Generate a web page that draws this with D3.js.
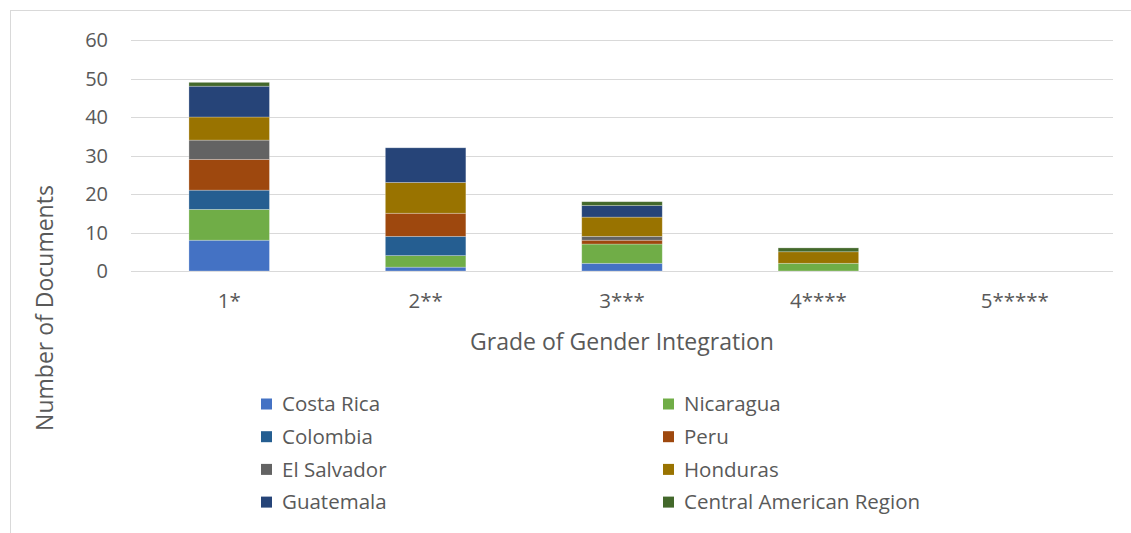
<!DOCTYPE html>
<html lang="en">
<head>
    <meta charset="UTF-8">
    <script src="https://d3js.org/d3.v7.min.js"></script>
    <style>
        body {
            margin: 0;
            background-color: #fff;
        }
        text {
            font-family: "Open Sans", "Liberation Sans", sans-serif;
            fill: #595959;
        }
    </style>
    <title>Grade of Gender Integration</title>
</head>
<body>
    <svg id="chart" width="1131" height="533"></svg>
    <script>
        // data
        var grades = ["1*", "2**", "3***", "4****", "5*****"];
        var countries = ["Costa Rica", "Nicaragua", "Colombia", "Peru", "El Salvador", "Honduras", "Guatemala", "Central American Region"];
        var colors = ["#4472C4", "#70AD47", "#255E91", "#9E480E", "#636363", "#997300", "#264478", "#43682B"];

        var costaRica   = [8, 1, 2, 0, 0];
        var nicaragua   = [8, 3, 5, 2, 0];
        var colombia    = [5, 5, 0, 0, 0];
        var peru        = [8, 6, 1, 0, 0];
        var elSalvador  = [5, 0, 1, 0, 0];
        var honduras    = [6, 8, 5, 3, 0];
        var guatemala   = [8, 9, 3, 0, 0];
        var centralAm   = [1, 0, 1, 1, 0];

        var yTicks = [0, 10, 20, 30, 40, 50, 60];

        var series = [costaRica, nicaragua, colombia, peru, elSalvador, honduras, guatemala, centralAm];

        var table = grades.map(function (g, i) {
            var row = { grade: g };
            countries.forEach(function (c, k) { row[c] = series[k][i]; });
            return row;
        });

        var svg = d3.select("#chart");

        // outer frame
        svg.append("rect")
            .attr("x", 10.5).attr("y", 10.5)
            .attr("width", 1130).attr("height", 530)
            .attr("fill", "none")
            .attr("stroke", "#d9d9d9");

        var plotLeft = 131, plotRight = 1113, plotTop = 40, plotBottom = 271;

        var x = d3.scaleBand().domain(grades).range([plotLeft, plotRight]);
        var y = d3.scaleLinear().domain([0, 60]).range([plotBottom, plotTop]);

        // gridlines
        svg.append("g")
            .selectAll("line")
            .data(yTicks)
            .enter().append("line")
            .attr("x1", plotLeft).attr("x2", plotRight)
            .attr("y1", function (d) { return Math.round(y(d)) + 0.5; })
            .attr("y2", function (d) { return Math.round(y(d)) + 0.5; })
            .attr("stroke", "#d9d9d9")
            .attr("stroke-width", 1);

        // y tick labels
        svg.append("g")
            .selectAll("text")
            .data(yTicks)
            .enter().append("text")
            .attr("x", 108)
            .attr("y", function (d) { return y(d); })
            .attr("dy", "0.35em")
            .attr("text-anchor", "end")
            .style("font-size", "20px")
            .text(function (d) { return d; });

        // stacked bars
        var stack = d3.stack().keys(countries)(table);
        var barW = x.bandwidth() * 0.41;

        svg.append("g")
            .selectAll("g")
            .data(stack)
            .enter().append("g")
            .attr("fill", function (d, i) { return colors[i]; })
            .selectAll("rect")
            .data(function (d) { return d; })
            .enter().append("rect")
            .attr("x", function (d) { return x(d.data.grade) + (x.bandwidth() - barW) / 2; })
            .attr("y", function (d) { return y(d[1]); })
            .attr("width", barW)
            .attr("height", function (d) { return y(d[0]) - y(d[1]); })
            .attr("stroke", "#ffffff")
            .attr("stroke-opacity", function (d) { return d[1] > d[0] ? 0.35 : 0; })
            .attr("stroke-width", 0.75);

        // x tick labels
        svg.append("g")
            .selectAll("text")
            .data(grades)
            .enter().append("text")
            .attr("x", function (d) { return x(d) + x.bandwidth() / 2; })
            .attr("y", 301)
            .attr("dy", "0.35em")
            .attr("text-anchor", "middle")
            .style("font-size", "20.5px")
            .text(function (d) { return d; });

        // axis titles
        svg.append("text")
            .attr("x", 622)
            .attr("y", 342)
            .attr("dy", "0.35em")
            .attr("text-anchor", "middle")
            .style("font-size", "23px")
            .text("Grade of Gender Integration");

        svg.append("text")
            .attr("transform", "translate(45,308) rotate(-90)")
            .attr("dy", "0.35em")
            .attr("text-anchor", "middle")
            .style("font-size", "23px")
            .text("Number of Documents");

        // legend
        var legend = svg.append("g")
            .selectAll("g")
            .data(countries)
            .enter().append("g")
            .attr("transform", function (d, i) {
                var col = i % 2, row = Math.floor(i / 2);
                return "translate(" + (261 + col * 402) + "," + (404 + row * 32.7) + ")";
            });

        legend.append("rect")
            .attr("x", 0).attr("y", -5.5)
            .attr("width", 11).attr("height", 11)
            .attr("fill", function (d, i) { return colors[i]; });

        legend.append("text")
            .attr("x", 21)
            .attr("dy", "0.35em")
            .style("font-size", "20.5px")
            .text(function (d) { return d; });
    </script>
</body>
</html>
